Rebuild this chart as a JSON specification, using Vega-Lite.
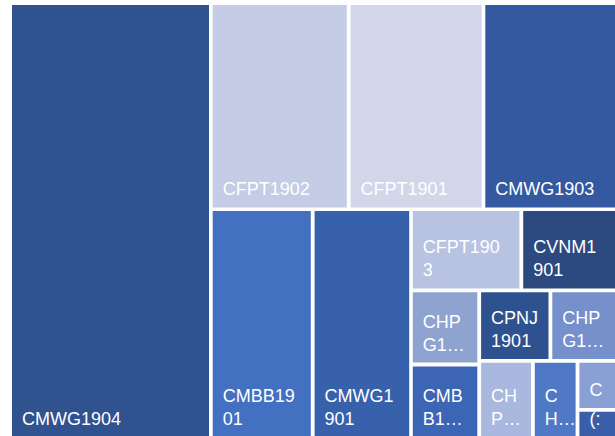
{
  "$schema": "https://vega.github.io/schema/vega-lite/v6.json",
  "width": 603,
  "height": 432,
  "autosize": "none",
  "padding": {"left": 12, "top": 5, "right": 0, "bottom": 0},
  "background": "white",
  "config": {"view": {"stroke": null}},
  "data": {
    "values": [
      {"id": "CMWG1904", "line1": "", "line2": "CMWG1904", "x0": 0, "x1": 197, "y0": 0, "y1": 432},
      {"id": "CFPT1902", "line1": "", "line2": "CFPT1902", "x0": 200.7, "x1": 334.8, "y0": 0, "y1": 202.4},
      {"id": "CFPT1901", "line1": "", "line2": "CFPT1901", "x0": 338.6, "x1": 469.6, "y0": 0, "y1": 202.4},
      {"id": "CMWG1903", "line1": "", "line2": "CMWG1903", "x0": 473.3, "x1": 603, "y0": 0, "y1": 202.4},
      {"id": "CMBB1901", "line1": "CMBB19", "line2": "01", "x0": 200.7, "x1": 298.8, "y0": 206, "y1": 432},
      {"id": "CMWG1901", "line1": "CMWG1", "line2": "901", "x0": 302.6, "x1": 397.2, "y0": 206, "y1": 432},
      {"id": "CFPT1903", "line1": "CFPT190", "line2": "3", "x0": 400.8, "x1": 507.4, "y0": 206, "y1": 283.4},
      {"id": "CVNM1901", "line1": "CVNM1", "line2": "901", "x0": 511.2, "x1": 603, "y0": 206, "y1": 283.4},
      {"id": "CHPG1a", "line1": "CHP", "line2": "G1…", "x0": 400.8, "x1": 465.3, "y0": 287.2, "y1": 357.6},
      {"id": "CPNJ1901", "line1": "CPNJ", "line2": "1901", "x0": 469.1, "x1": 536.5, "y0": 287.2, "y1": 354},
      {"id": "CHPG1b", "line1": "CHP", "line2": "G1…", "x0": 540.3, "x1": 603, "y0": 287.2, "y1": 354},
      {"id": "CMBB1b", "line1": "CMB", "line2": "B1…", "x0": 400.8, "x1": 465.3, "y0": 361.4, "y1": 432},
      {"id": "CHPx", "line1": "CH", "line2": "P…", "x0": 469.1, "x1": 519, "y0": 357.8, "y1": 432},
      {"id": "CHx", "line1": "C", "line2": "H…", "x0": 522.8, "x1": 563.6, "y0": 357.8, "y1": 432},
      {"id": "Cx", "line1": "", "line2": "C", "x0": 567.4, "x1": 603, "y0": 357.8, "y1": 402.9},
      {"id": "Cy", "line1": "", "line2": "(:", "x0": 567.4, "x1": 603, "y0": 406.7, "y1": 432}
    ]
  },
  "encoding": {
    "x": {"field": "x0", "type": "quantitative", "scale": {"domain": [0, 603], "nice": false, "zero": false}, "axis": null}
  },
  "layer": [
    {
      "mark": {"type": "rect"},
      "encoding": {
        "x2": {"field": "x1"},
        "y": {"field": "y0", "type": "quantitative", "scale": {"domain": [0, 432], "nice": false, "zero": false, "reverse": true}, "axis": null},
        "y2": {"field": "y1"},
        "color": {
          "field": "id",
          "type": "nominal",
          "legend": null,
          "scale": {
            "domain": ["CMWG1904", "CFPT1902", "CFPT1901", "CMWG1903", "CMBB1901", "CMWG1901", "CFPT1903", "CVNM1901", "CHPG1a", "CPNJ1901", "CHPG1b", "CMBB1b", "CHPx", "CHx", "Cx", "Cy"],
            "range": ["#30528f", "#c5cde6", "#d1d7e9", "#3459a0", "#4370c1", "#3861ab", "#b7c3e1", "#2c4a80", "#8fa3d1", "#2e5290", "#7690cc", "#3d65b5", "#a9b8de", "#4f78c6", "#8a9fd4", "#3a5fa8"]
          }
        }
      }
    },
    {
      "mark": {"type": "text", "align": "left", "baseline": "alphabetic", "dx": 10, "dy": -12, "fontSize": 18, "font": "Liberation Sans", "color": "white"},
      "encoding": {
        "y": {"field": "y1", "type": "quantitative", "scale": {"domain": [0, 432], "nice": false, "zero": false, "reverse": true}, "axis": null},
        "text": {"field": "line2", "type": "nominal"}
      }
    },
    {
      "mark": {"type": "text", "align": "left", "baseline": "alphabetic", "dx": 10, "dy": -35, "fontSize": 18, "font": "Liberation Sans", "color": "white"},
      "encoding": {
        "y": {"field": "y1", "type": "quantitative", "scale": {"domain": [0, 432], "nice": false, "zero": false, "reverse": true}, "axis": null},
        "text": {"field": "line1", "type": "nominal"}
      }
    }
  ]
}
